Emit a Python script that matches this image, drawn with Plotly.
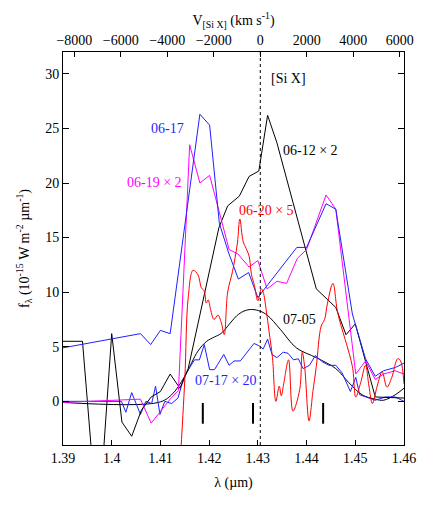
import plotly.graph_objects as go

# wavelength grid in micron, flux in 1e-15 W m-2 um-1
rest_wavelength = 1.4305
c_kms = 299792.458

wl_0617 = [1.3900, 1.4059, 1.4080, 1.4100, 1.4120, 1.4181, 1.4201, 1.4221, 1.4240, 1.4260,
           1.4281, 1.4300, 1.4312, 1.4359, 1.4380, 1.4400, 1.4440, 1.4460, 1.4494, 1.4521,
           1.4541, 1.4558, 1.4582, 1.4600]
f_0617 = [4.9, 6.2, 5.2, 6.5, 6.2, 26.3, 25.3, 16.3, 13.6, 11.2,
          11.8, 9.5, 10.2, 12.9, 14.1, 14.1, 18.1, 17.6, 8.0, 3.9,
          2.3, 2.8, 3.1, 3.5]

wl_0619 = [1.3900, 1.4059, 1.4081, 1.4120, 1.4137, 1.4160, 1.4181, 1.4201, 1.4241, 1.4259,
           1.4282, 1.4300, 1.4319, 1.4339, 1.4359, 1.4381, 1.4400, 1.4440, 1.4460, 1.4486,
           1.4501, 1.4521, 1.4541, 1.4558, 1.4582, 1.4600]
f_0619 = [-0.1, 0.2, -2.0, 0.2, 1.0, 23.5, 20.0, 20.7, 13.9, 13.5,
          12.3, 12.9, 10.3, 11.0, 10.8, 13.1, 13.9, 18.9, 17.6, 8.0,
          2.5, 3.7, 2.0, 2.5, 2.8, 2.5]

wl_0620 = [1.4140, 1.4150, 1.4157, 1.4167, 1.4177, 1.4184, 1.4190, 1.4194, 1.4198, 1.4203,
           1.4210, 1.4218, 1.4225, 1.4231, 1.4238, 1.4248, 1.4258, 1.4263, 1.4270, 1.4276,
           1.4282, 1.4287, 1.4293, 1.4300, 1.4307, 1.4311, 1.4317, 1.4323, 1.4330, 1.4337,
           1.4344, 1.4348, 1.4353, 1.4363, 1.4372, 1.4386, 1.4391, 1.4396, 1.4405, 1.4413,
           1.4420, 1.4430, 1.4437, 1.4443, 1.4454, 1.4464, 1.4494, 1.4501, 1.4511, 1.4521,
           1.4528, 1.4535, 1.4545, 1.4555, 1.4565, 1.4575, 1.4587, 1.4593, 1.4600]
f_0620 = [-6.0, 2.0, 9.5, 12.0, 11.6, 10.4, 10.1, 9.0, 9.3, 8.4,
          7.5, 7.9, 7.2, 6.1, 10.0, 11.9, 14.5, 16.7, 14.6, 14.0,
          13.3, 11.6, 10.6, 9.2, 10.3, 10.0, 8.4, 6.4, 4.0, 0.0,
          1.4, 0.5, 1.6, 3.8, -0.9, 1.1, 4.5, 3.2, -1.8, 0.9,
          3.2, 6.9, 7.5, 9.0, 10.8, 8.1, 3.2, 0.4, 1.7, 3.3,
          1.4, -0.2, 1.4, 2.7, 1.3, 2.2, 3.9, 3.7, 1.6]

wl_0612 = [1.3900, 1.3940, 1.3961, 1.3981, 1.4000, 1.4021, 1.4041, 1.4061, 1.4081, 1.4100,
           1.4120, 1.4140, 1.4157, 1.4220, 1.4238, 1.4262, 1.4282, 1.4302, 1.4320, 1.4339,
           1.4420, 1.4460, 1.4481, 1.4500, 1.4541, 1.4581, 1.4600]
f_0612 = [5.5, 5.5, -6.0, -6.0, 6.2, -1.9, -3.2, -0.8, 0.4, 0.9,
          2.5, 1.2, 3.0, 15.9, 17.9, 18.8, 20.6, 21.1, 26.2, 23.7,
          10.3, 8.6, 6.1, 7.1, 0.4, 0.3, 0.3]

wl_0705 = [1.3900, 1.4096, 1.4123, 1.4150, 1.4177, 1.4195, 1.4211, 1.4224, 1.4261, 1.4282,
           1.4302, 1.4319, 1.4346, 1.4379, 1.4420, 1.4460, 1.4487, 1.4514, 1.4541, 1.4558,
           1.4582, 1.4600]
f_0705 = [-0.1, -0.1, 0.6, 2.3, 4.6, 5.5, 5.9, 6.2, 8.0, 8.4,
          8.3, 7.9, 6.6, 4.9, 4.0, 3.0, 1.7, 0.6, 0.2, 0.1,
          0.6, 1.2]

wl_0717 = [1.3900, 1.4020, 1.4029, 1.4041, 1.4059, 1.4070, 1.4082, 1.4090, 1.4099, 1.4109,
           1.4123, 1.4136, 1.4143, 1.4153, 1.4170, 1.4180, 1.4190, 1.4201, 1.4211, 1.4230,
           1.4241, 1.4251, 1.4264, 1.4278, 1.4292, 1.4302, 1.4311, 1.4320, 1.4329, 1.4339,
           1.4352, 1.4362, 1.4373, 1.4383, 1.4393, 1.4406, 1.4418, 1.4433, 1.4446, 1.4460,
           1.4473, 1.4490, 1.4501, 1.4509, 1.4521, 1.4541, 1.4562, 1.4582, 1.4600]
f_0717 = [0.0, 0.0, -1.0, 0.8, -1.2, 0.0, -0.2, 1.4, -1.2, 0.0,
          -0.2, 0.3, 1.4, 2.6, 3.8, 3.8, 5.2, 2.9, 2.9, 4.3,
          3.3, 3.7, 3.7, 4.5, 5.3, 5.1, 4.8, 5.7, 4.3, 4.0,
          4.5, 4.4, 3.8, 3.9, 3.0, 3.3, 4.2, 3.6, 3.3, 3.3,
          2.6, 0.9, 2.2, 0.6, 0.4, 0.1, 0.4, 0.4, 0.0]

# short vertical markers under the spectra
mark_wl = [1.4187, 1.4290, 1.4434]
mark_top, mark_bottom = -0.15, -2.05

wl_range = [1.39, 1.46]
flux_range = [-4.0, 32.0]
vel_range = [c_kms * (w / rest_wavelength - 1) for w in wl_range]

BLUE = '#1f1fff'
MAGENTA = '#ff00ff'
RED = '#ff0000'
BLACK = '#000000'
FONT = 'Liberation Serif, Times New Roman, Times, serif'

fig = go.Figure()

def add_line(x, y, color, shape='linear'):
	fig.add_trace(go.Scatter(x=x, y=y, mode='lines', line=dict(color=color, width=1, shape=shape),
	                         hoverinfo='skip', showlegend=False))

add_line(wl_0705, f_0705, BLACK, 'spline')
add_line(wl_0717, f_0717, BLUE)
add_line(wl_0612, f_0612, BLACK)
add_line(wl_0619, f_0619, MAGENTA)
add_line(wl_0617, f_0617, BLUE)
add_line(wl_0620, f_0620, RED, 'spline')

mx, my = [], []
for m in mark_wl:
	mx += [m, m, None]
	my += [mark_top, mark_bottom, None]
fig.add_trace(go.Scatter(x=mx, y=my, mode='lines', line=dict(color=BLACK, width=2),
                         hoverinfo='skip', showlegend=False))

# invisible trace to carry the velocity axis on top
fig.add_trace(go.Scatter(x=vel_range, y=flux_range, xaxis='x2', mode='none',
                         hoverinfo='skip', showlegend=False))

fig.add_shape(type='line', x0=rest_wavelength, x1=rest_wavelength, y0=0, y1=1,
              xref='x', yref='paper', line=dict(color=BLACK, width=1, dash='3px,3px'))

labels = [
	('06-17', 1.41145, 25.0, BLUE),
	('06-19 × 2', 1.40875, 20.05, MAGENTA),
	('06-20 × 5', 1.43168, 17.46, RED),
	('06-12 × 2', 1.44078, 22.97, BLACK),
	('07-05', 1.43849, 7.48, BLACK),
	('07-17 × 20', 1.42352, 1.95, BLUE),
	('[Si X]', 1.43623, 29.54, BLACK),
]
for text, x, y, col in labels:
	fig.add_annotation(x=x, y=y, text=text, showarrow=False, xref='x', yref='y',
	                   font=dict(family=FONT, size=14, color=col))

axis_common = dict(showline=True, linecolor=BLACK, linewidth=1, ticks='inside', tickcolor=BLACK,
                   showgrid=False, zeroline=False, tickfont=dict(family=FONT, size=14, color=BLACK))

# page body has an 8px margin, so the figure is 16px smaller than the window
fig.update_layout(
	width=420, height=492,
	margin=dict(l=55, r=19, t=35, b=40),
	plot_bgcolor='white', paper_bgcolor='white',
	font=dict(family=FONT, size=14, color=BLACK),
	xaxis=dict(range=wl_range, dtick=0.01, tick0=1.39, ticklen=5, mirror=False,
	           title=dict(text='λ (µm)', standoff=12, font=dict(family=FONT, size=14)),
	           **axis_common),
	xaxis2=dict(range=vel_range, overlaying='x', side='top', anchor='y', dtick=2000, tick0=0,
	            ticklen=5,
	            title=dict(text='V<sub>[Si X]</sub> (km s<sup>-1</sup>)', standoff=4,
	                       font=dict(family=FONT, size=14)),
	            **axis_common),
	yaxis=dict(range=flux_range, dtick=5, tick0=0, ticklen=6, mirror='ticks',
	           title=dict(text='f<sub>λ</sub> (10<sup>-15</sup> W m<sup>-2</sup> µm<sup>-1</sup>)',
	                      standoff=12, font=dict(family=FONT, size=14)),
	           **axis_common),
)

fig.write_html("out.html")
